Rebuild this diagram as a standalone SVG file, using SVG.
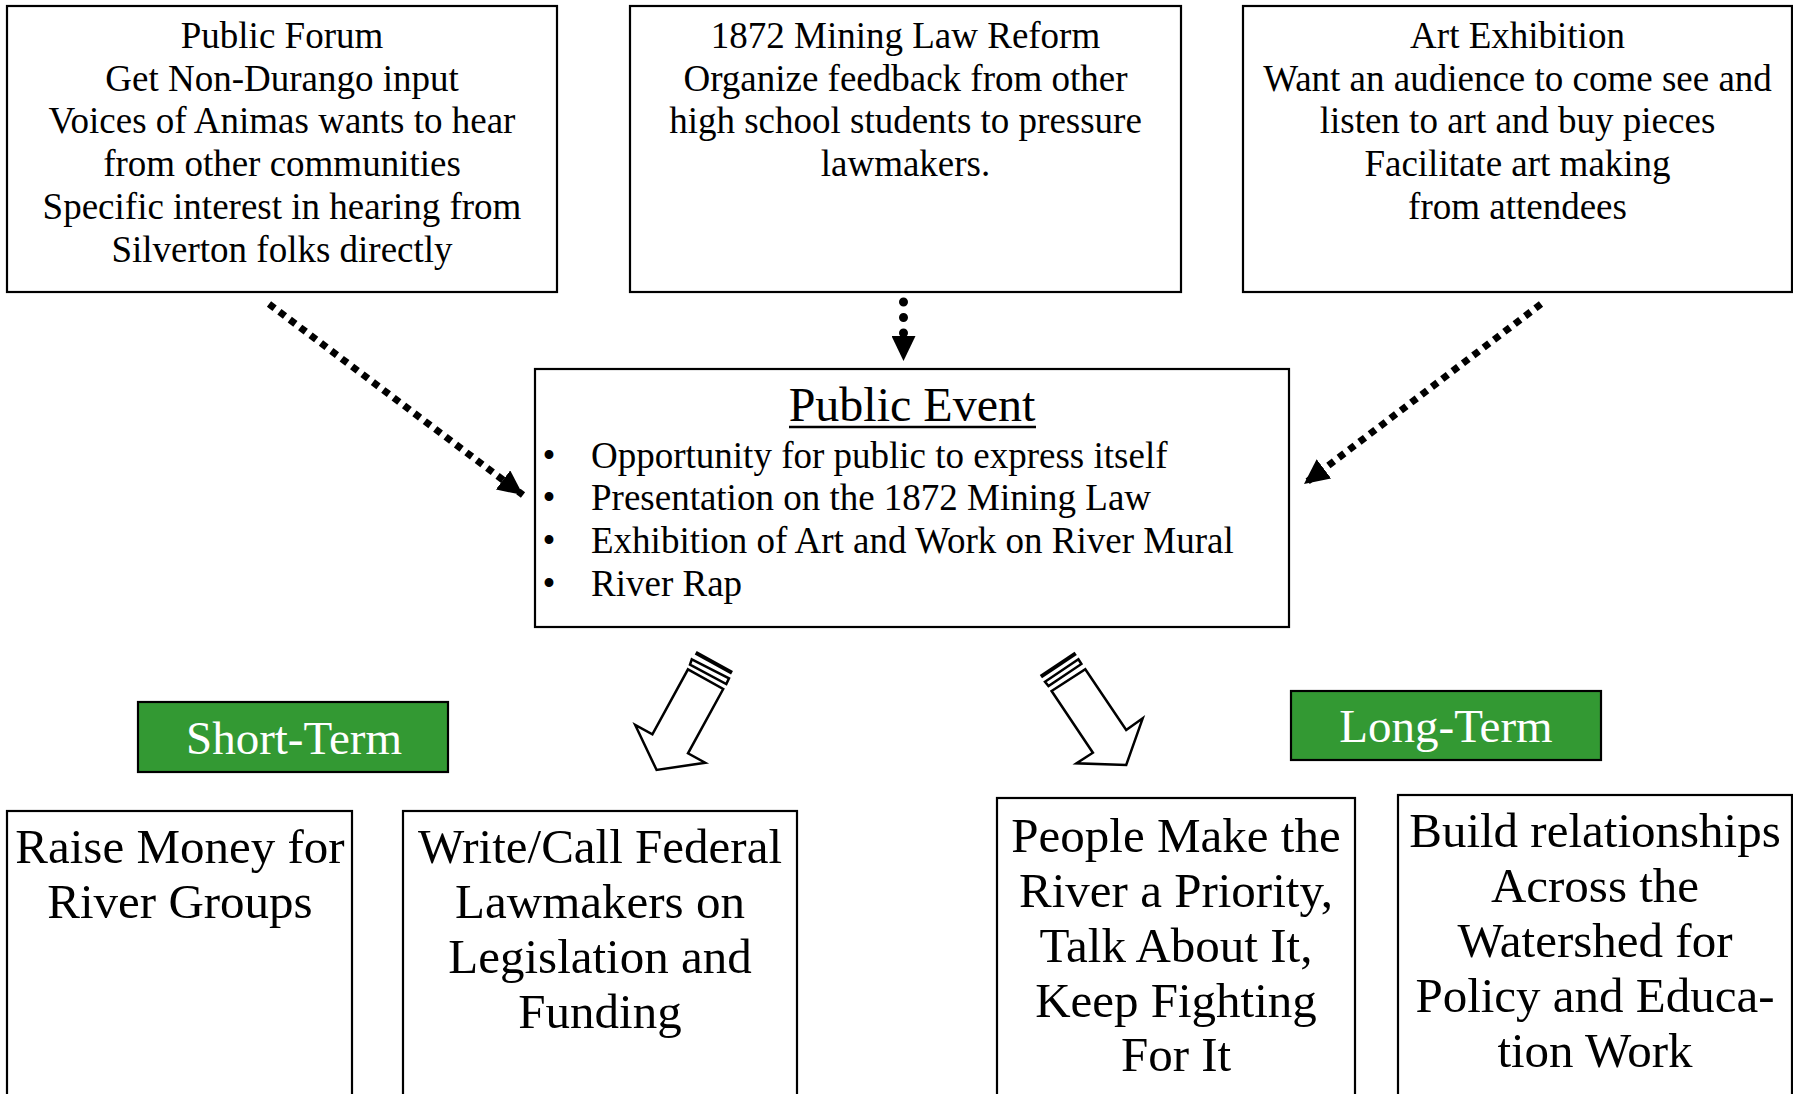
<svg xmlns="http://www.w3.org/2000/svg" width="1793" height="1094" viewBox="0 0 1793 1094">
<defs>
<style>
.box{fill:#fff;stroke:#000;stroke-width:2.2}
.green{fill:#339933;stroke:#000;stroke-width:2.2}
.t{font-family:"Liberation Serif","Times New Roman",serif;font-size:37px;fill:#000;text-anchor:middle}
.b{font-family:"Liberation Serif","Times New Roman",serif;font-size:49px;fill:#000;text-anchor:middle}
.g{font-family:"Liberation Serif","Times New Roman",serif;font-size:47px;fill:#fff;text-anchor:middle}
.li{font-family:"Liberation Serif","Times New Roman",serif;font-size:37px;fill:#000}
.sq{fill:none;stroke:#000;stroke-width:7;stroke-dasharray:7 6}
.rd{fill:none;stroke:#000;stroke-width:9;stroke-linecap:round;stroke-dasharray:0 15.5}
.blk{fill:#fff;stroke:#000;stroke-width:2.5;stroke-linejoin:miter}
</style>
<marker id="ah" markerUnits="userSpaceOnUse" markerWidth="26" markerHeight="24" refX="25" refY="12" orient="auto">
<path d="M0,0 L25,12 L0,24 z" fill="#000"/>
</marker>
</defs>

<g id="public-forum">
<rect class="box" x="7" y="6" width="550" height="286"/>
<text class="t" x="282" y="48">Public Forum</text>
<text class="t" x="282" y="91">Get Non-Durango input</text>
<text class="t" x="282" y="133">Voices of Animas wants to hear</text>
<text class="t" x="282" y="176">from other communities</text>
<text class="t" x="282" y="219">Specific interest in hearing from</text>
<text class="t" x="282" y="262">Silverton folks directly</text>
</g>

<g id="mining-law">
<rect class="box" x="630" y="6" width="551" height="286"/>
<text class="t" x="905.5" y="48">1872 Mining Law Reform</text>
<text class="t" x="905.5" y="91">Organize feedback from other</text>
<text class="t" x="905.5" y="133">high school students to pressure</text>
<text class="t" x="905.5" y="176">lawmakers.</text>
</g>

<g id="art-exhibition">
<rect class="box" x="1243" y="6" width="549" height="286"/>
<text class="t" x="1517.5" y="48">Art Exhibition</text>
<text class="t" x="1517.5" y="91">Want an audience to come see and</text>
<text class="t" x="1517.5" y="133">listen to art and buy pieces</text>
<text class="t" x="1517.5" y="176">Facilitate art making</text>
<text class="t" x="1517.5" y="219">from attendees</text>
</g>

<g id="public-event">
<rect class="box" x="535" y="369" width="754" height="258"/>
<text class="t" x="912" y="421" style="font-size:48px">Public Event</text>
<line x1="789" y1="427" x2="1036" y2="427" stroke="#000" stroke-width="2.5"/>
<text class="t" x="549" y="468">•</text>
<text class="t" x="549" y="510">•</text>
<text class="t" x="549" y="553">•</text>
<text class="t" x="549" y="596">•</text>
<text class="li" x="591" y="468">Opportunity for public to express itself</text>
<text class="li" x="591" y="510">Presentation on the 1872 Mining Law</text>
<text class="li" x="591" y="553">Exhibition of Art and Work on River Mural</text>
<text class="li" x="591" y="596">River Rap</text>
</g>

<g id="short-term">
<rect class="green" x="138" y="702" width="310" height="70"/>
<text class="g" x="294" y="754">Short-Term</text>
</g>

<g id="long-term">
<rect class="green" x="1291" y="691" width="310" height="69"/>
<text class="g" x="1446" y="742">Long-Term</text>
</g>

<g id="raise-money">
<rect class="box" x="7" y="811" width="345" height="300"/>
<text class="b" x="180" y="863">Raise Money for</text>
<text class="b" x="180" y="918">River Groups</text>
</g>

<g id="write-call">
<rect class="box" x="403" y="811" width="394" height="300"/>
<text class="b" x="600" y="863">Write/Call Federal</text>
<text class="b" x="600" y="918">Lawmakers on</text>
<text class="b" x="600" y="973">Legislation and</text>
<text class="b" x="600" y="1028">Funding</text>
</g>

<g id="people-priority">
<rect class="box" x="997" y="798" width="358" height="310"/>
<text class="b" x="1176" y="852">People Make the</text>
<text class="b" x="1176" y="907">River a Priority,</text>
<text class="b" x="1176" y="962">Talk About It,</text>
<text class="b" x="1176" y="1017">Keep Fighting</text>
<text class="b" x="1176" y="1071">For It</text>
</g>

<g id="build-relationships">
<rect class="box" x="1398" y="795" width="394" height="310"/>
<text class="b" x="1595" y="847">Build relationships</text>
<text class="b" x="1595" y="902">Across the</text>
<text class="b" x="1595" y="957">Watershed for</text>
<text class="b" x="1595" y="1012">Policy and Educa-</text>
<text class="b" x="1595" y="1067">tion Work</text>
</g>

<g id="connectors">
<line class="sq" x1="269" y1="304" x2="523" y2="495" marker-end="url(#ah)"/>
<line class="rd" x1="903.5" y1="302" x2="903.5" y2="361" marker-end="url(#ah)"/>
<line class="sq" x1="1541" y1="304" x2="1304" y2="484" marker-end="url(#ah)"/>

<g id="block-arrow-left">
<line x1="695.7" y1="652.7" x2="732" y2="672.7" stroke="#000" stroke-width="4"/>
<polygon class="blk" points="691.8,659.3 729,678.3 726.3,684 690,664.7"/>
<polygon class="blk" points="688,669.3 723.2,689 688,753.3 705.2,762.7 656.6,770 635.2,725 652.4,734.3"/>
</g>
<g id="block-arrow-right">
<line x1="1040.9" y1="676.7" x2="1075.7" y2="653.3" stroke="#000" stroke-width="4"/>
<polygon class="blk" points="1045,681.7 1078.4,659.3 1081.4,664 1048.5,686"/>
<polygon class="blk" points="1051.6,691 1085.3,669.3 1126.2,730 1142.7,718.3 1126.2,765 1076.5,763.3 1092.9,752.7"/>
</g>
</g>
</svg>
